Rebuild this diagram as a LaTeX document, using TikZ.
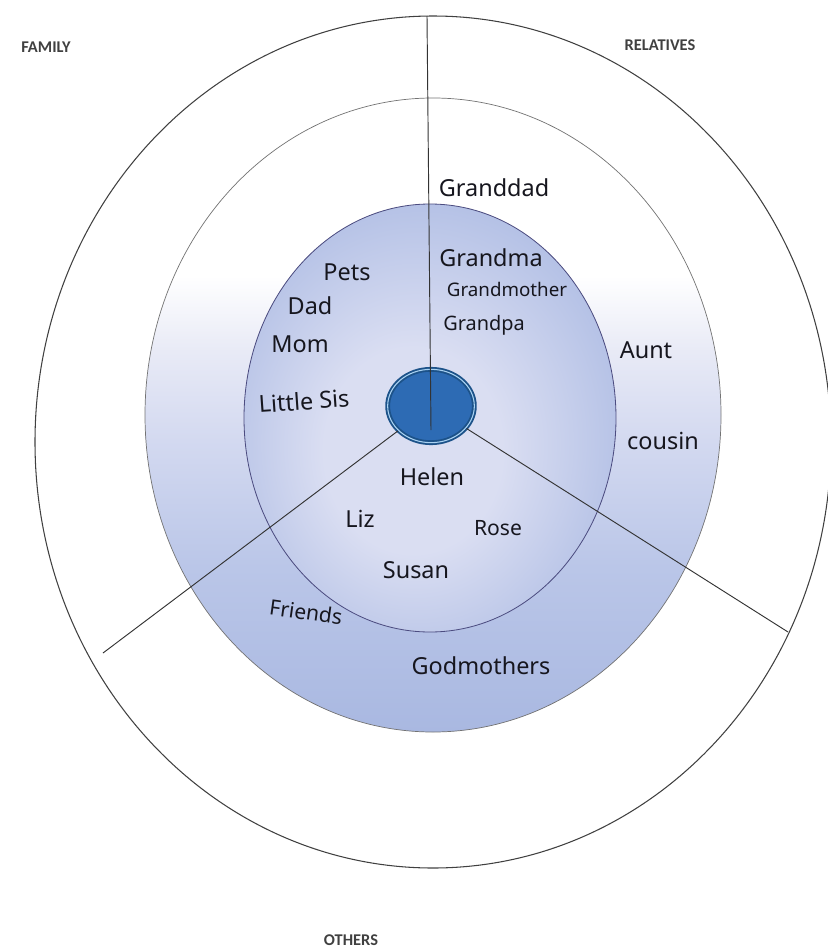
\documentclass[tikz,border=0pt]{standalone}
\usepackage{fontspec}
\setmainfont{Noto Sans}
\newfontfamily\handfont{Noto Sans}
\newfontfamily\tagfont{Carlito}
\usetikzlibrary{shapes.geometric, positioning}

\definecolor{ringblue}{HTML}{A9B8E1}
\definecolor{ringmid}{HTML}{BAC6E8}
\definecolor{ringpale}{HTML}{D3D9F0}
\definecolor{ringmist}{HTML}{E8EAF6}
\definecolor{innerblue}{HTML}{AFBDE4}
\definecolor{innerlight}{HTML}{DADEF2}
\definecolor{coreblue}{HTML}{2D6BB4}
\definecolor{coreedge}{HTML}{1C5289}
\definecolor{coreglow}{HTML}{A9D2F2}
\definecolor{inkblack}{HTML}{16161E}

\pgfdeclareverticalshading{ringshade}{100bp}{color(0bp)=(ringblue); color(25bp)=(ringblue);
    color(38bp)=(ringmid); color(48bp)=(ringpale); color(55bp)=(ringmist); color(61bp)=(white);
    color(100bp)=(white)}
\pgfdeclareradialshading{innershade}{\pgfpoint{-3bp}{-5bp}}{color(0bp)=(innerlight);
    color(12bp)=(innerlight); color(30bp)=(innerblue); color(50bp)=(innerblue)}

\tikzset{
    hand/.style={font=\handfont\fontsize{20}{24}\selectfont, text=inkblack, inner sep=0pt},
    tag/.style={font=\tagfont\bfseries\fontsize{14}{16}\selectfont, text=black!75, inner sep=0pt},
    spoke/.style={draw=black!80, line width=0.8pt}
}

\begin{document}
\begin{tikzpicture}[x=0.03cm, y=-0.03cm]
    \useasboundingbox (0,0) rectangle (827,951);

    % Rings
    \draw[black!75, line width=0.9pt] (433,442) ellipse [x radius=398, y radius=426];
    \shade[shading=ringshade] (433,415) ellipse [x radius=288, y radius=317];
    \draw[black!55, line width=0.6pt] (433,415) ellipse [x radius=288, y radius=317];
    \shade[shading=innershade] (430,418) ellipse [x radius=186, y radius=214];
    \draw[black!50!blue!40!gray, line width=0.7pt] (430,418) ellipse [x radius=186, y radius=214];

    % Spoke ends
    \coordinate (topend) at (427,16);
    \coordinate (leftend) at (103,653);
    \coordinate (rightend) at (788,632);
    \coordinate (hub) at (431,430);

    % Centre
    \node[ellipse, minimum width=2.6cm, minimum height=2.2cm, fill=coreblue, draw=coreedge,
        line width=1.6pt, double=coreglow, double distance=0.9pt] (core) at (431,406) {};

    \draw[spoke] (core) -- (leftend);
    \draw[spoke] (core) -- (rightend);
    \draw[spoke] (hub) -- (topend);

    % Sector titles
    \node[tag] (family) at (46,47) {FAMILY};
    \node[tag] (relatives) at (660,45) {RELATIVES};
    \node[tag] (others) at (351,940) {OTHERS};

    % Names
    \foreach \nm/\xx/\yy/\txt in {pets/347/272/Pets, dad/310/306/Dad, mom/300/344/Mom,
        granddad/494/188/Granddad, grandma/491/258/Grandma, aunt/646/350/Aunt,
        cousin/663/441/cousin, helen/432/477/Helen, liz/360/519/Liz, susan/416/570/Susan,
        godmothers/481/666/Godmothers}
        \node[hand] (\nm) at (\xx,\yy) {\txt};
    \node[hand, rotate=4] (littlesis) at (304,401) {Little Sis};
    \node[hand, font=\handfont\fontsize{16}{18}\selectfont] (grandmother) at (507,289) {Grandmother};
    \node[hand, font=\handfont\fontsize{17}{20}\selectfont] (grandpa) at (484,325) {Grandpa};
    \node[hand, font=\handfont\fontsize{18}{20}\selectfont] (rose) at (498,528) {Rose};
    \node[hand, rotate=-8, font=\handfont\fontsize{18}{20}\selectfont] (friends) at (306,612) {Friends};
\end{tikzpicture}
\end{document}
